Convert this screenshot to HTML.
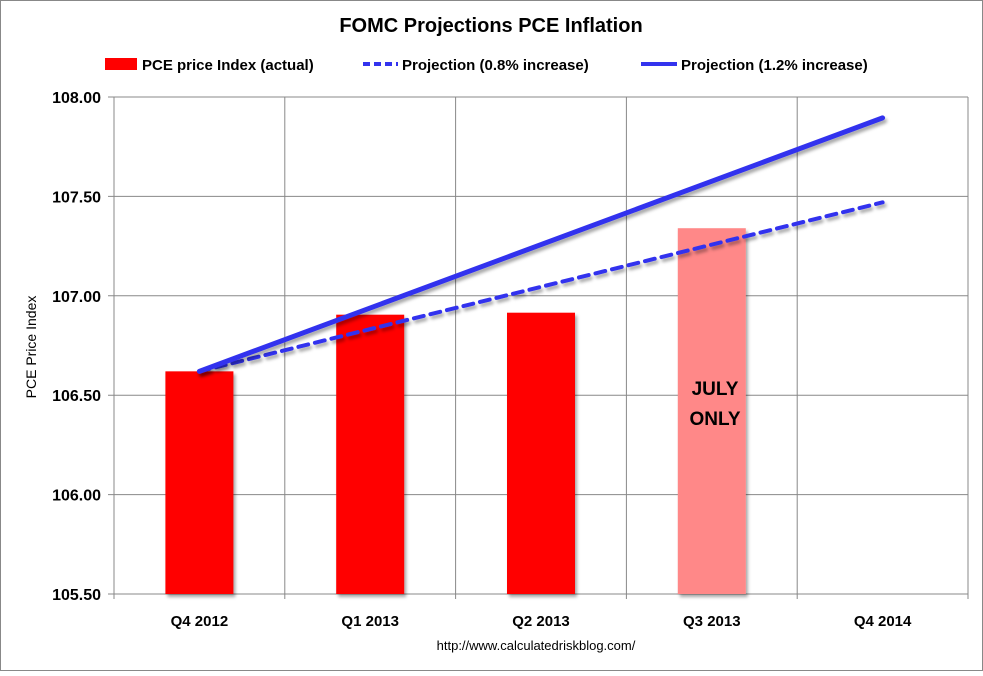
<!DOCTYPE html>
<html><head><meta charset="utf-8"><style>
body{margin:0;background:#fff;font-family:"Liberation Sans",Arial,sans-serif}
svg text{font-family:"Liberation Sans",Arial,sans-serif}
</style></head><body>
<svg width="983" height="671" viewBox="0 0 983 671">
<defs><filter id="sh" x="-5%" y="-5%" width="115%" height="120%"><feDropShadow dx="2" dy="3" stdDeviation="1.5" flood-color="#000" flood-opacity="0.35"/></filter></defs>
<rect x="0.5" y="0.5" width="982" height="670" fill="#fff" stroke="#888"/>
<text x="491" y="32" text-anchor="middle" font-size="20" font-weight="bold">FOMC Projections PCE Inflation</text>
<g id="legend">
<rect x="105" y="58" width="32" height="12" fill="#f00"/>
<text x="142" y="70" font-size="15" font-weight="bold">PCE price Index (actual)</text>
<line x1="363" y1="64" x2="398" y2="64" stroke="#3333ee" stroke-width="4" stroke-dasharray="7,4"/>
<text x="402" y="70" font-size="15" font-weight="bold">Projection (0.8% increase)</text>
<line x1="641" y1="64" x2="677" y2="64" stroke="#3333ee" stroke-width="4"/>
<text x="681" y="70" font-size="15" font-weight="bold">Projection (1.2% increase)</text>
</g>
<g id="grid"></g>
<g id="bars"></g>
<g id="lines"></g>
<g id="axes"></g>
<text x="715" y="395" text-anchor="middle" font-size="19" font-weight="bold">JULY</text>
<text x="715" y="425" text-anchor="middle" font-size="19" font-weight="bold">ONLY</text>
<text transform="translate(36,347) rotate(-90)" text-anchor="middle" font-size="14">PCE Price Index</text>
<text x="536" y="650" text-anchor="middle" font-size="13">http://www.calculatedriskblog.com/</text>
</svg>
<script>
const categories=["Q4 2012","Q1 2013","Q2 2013","Q3 2013","Q4 2014"];
const actual=[106.62,106.905,106.915,107.34,null];
const barColors=["#ff0000","#ff0000","#ff0000","#ff8888",null];
const proj08=[106.62,null,null,null,107.47];
const proj12=[106.62,null,null,null,107.895];
const yTicks=[105.5,106,106.5,107,107.5,108];
const yTickLabels=["105.50","106.00","106.50","107.00","107.50","108.00"];
const L=114,R=968,T=97,B=594,ymin=105.5,ymax=108;
const ns="http://www.w3.org/2000/svg";
const bw=(R-L)/categories.length;
const xc=i=>L+bw*(i+0.5);
const y=v=>B-(v-ymin)/(ymax-ymin)*(B-T);
function mk(t,a,p){const e=document.createElementNS(ns,t);for(const k in a)e.setAttribute(k,a[k]);p.appendChild(e);return e;}
const g=document.getElementById('grid'),ax=document.getElementById('axes');
yTicks.forEach((v,i)=>{
 const l=mk('line',{x1:L-6,x2:R,y1:y(v),y2:y(v),stroke:'#888','stroke-width':1},g);
 
 
 const t=mk('text',{x:L-13,y:y(v)+6,'text-anchor':'end','font-size':16,'font-weight':'bold'},ax);
 t.textContent=yTickLabels[i];
 
 
});
for(let i=0;i<=categories.length;i++){
 const l=mk('line',{x1:L+bw*i,x2:L+bw*i,y1:T,y2:B+5,stroke:'#888','stroke-width':1},g);
 
 
}
categories.forEach((c,i)=>{
 const t=mk('text',{x:xc(i),y:626,'text-anchor':'middle','font-size':15,'font-weight':'bold'},ax);
 t.textContent=c;
 
 
});
const bg=document.getElementById('bars');
actual.forEach((v,i)=>{
 if(v==null)return;
 const r=mk('rect',{x:xc(i)-34,y:y(v),width:68,height:B-y(v),fill:barColors[i],filter:'url(#sh)'},bg);
 
 
});
const lg=document.getElementById('lines');
function line(arr,dash,name){
 const pts=[];arr.forEach((v,i)=>{if(v!=null)pts.push(xc(i)+','+y(v));});
 const p=mk('polyline',{points:pts.join(' '),fill:'none',stroke:'#3333ee','stroke-width':dash?4:5,'stroke-linecap':'round',filter:'url(#sh)'},lg);
 if(dash)p.setAttribute('stroke-dasharray','10,7');
 
 
}
line(proj08,true,'projection-08-line');
line(proj12,false,'projection-12-line');
</script>
</body></html>
